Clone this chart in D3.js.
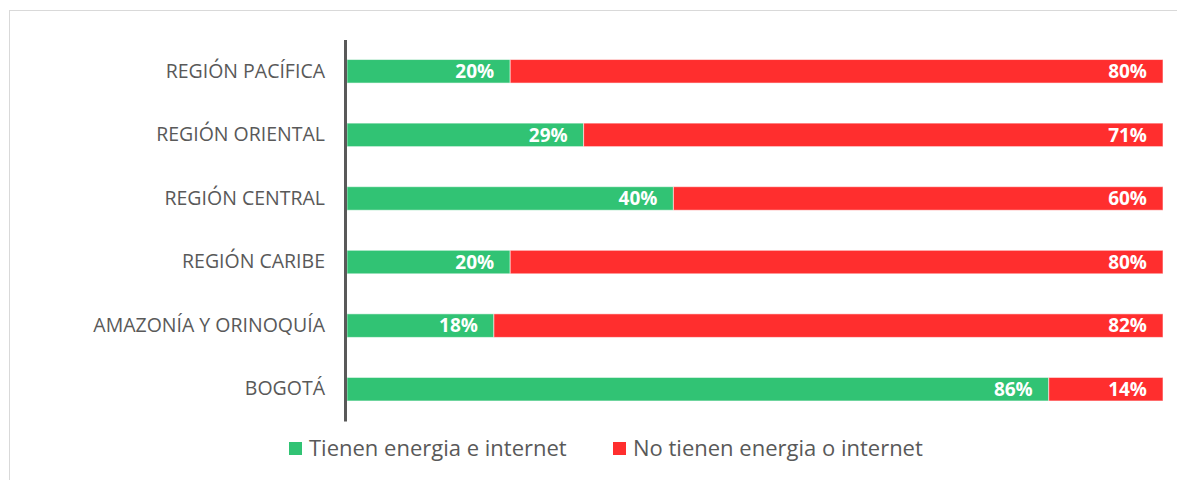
<!DOCTYPE html>
<html lang="es">
<head>
<meta charset="utf-8">
<script src="https://cdn.jsdelivr.net/npm/d3@7"></script>
<style>
  body { margin: 0; background: #fff; }
  svg { display: block; }
</style>
</head>
<body>
<script>
  // datos
  var regiones = ["REGIÓN PACÍFICA", "REGIÓN ORIENTAL", "REGIÓN CENTRAL", "REGIÓN CARIBE", "AMAZONÍA Y ORINOQUÍA", "BOGOTÁ"];
  var conAcceso = [20, 29, 40, 20, 18, 86];
  var sinAcceso = [80, 71, 60, 80, 82, 14];
  var series = ["Tienen energia e internet", "No tienen energia o internet"];
  var colores = ["#31c374", "#ff2e2e"];

  var W = 1177, H = 480;
  var svg = d3.select("body").append("svg")
    .attr("width", W)
    .attr("height", H)
    .style("font-family", "'Open Sans', sans-serif");

  // marco
  svg.append("rect")
    .attr("x", 9.5).attr("y", 10.5)
    .attr("width", W).attr("height", H)
    .attr("fill", "none")
    .attr("stroke", "#d9d9d9");

  var x = d3.scaleLinear().domain([0, 100]).range([347, 1163]);
  var y = d3.scaleBand().domain(regiones).range([39.5, 421]).paddingInner(0.63).paddingOuter(0.315);

  var rows = regiones.map(function(r, i) {
    return { region: r, vals: [conAcceso[i], sinAcceso[i]] };
  });

  var g = svg.append("g");
  rows.forEach(function(d) {
    var acc = 0;
    d.vals.forEach(function(v, k) {
      var x0 = x(acc), x1 = x(acc + v);
      g.append("rect")
        .attr("x", x0)
        .attr("y", y(d.region))
        .attr("width", x1 - x0)
        .attr("height", y.bandwidth())
        .attr("fill", colores[k])
        .attr("stroke", "#fff")
        .attr("stroke-opacity", 0.55)
        .attr("stroke-width", 1);
      g.append("text")
        .attr("x", x1 - 16)
        .attr("y", y(d.region) + y.bandwidth() / 2)
        .attr("dy", "0.36em")
        .attr("text-anchor", "end")
        .attr("fill", "#fff")
        .attr("font-weight", "bold")
        .attr("font-size", 19)
        .text(v + "%");
      acc += v;
    });
  });

  // eje vertical
  var axis = svg.append("g")
    .attr("transform", "translate(345,0)")
    .call(d3.axisLeft(y).tickSize(0).tickPadding(20));
  axis.select(".domain").attr("stroke", "#595959").attr("stroke-width", 3);
  axis.selectAll("text")
    .attr("fill", "#595959")
    .attr("font-size", 19.5)
    .style("font-family", "'Open Sans', sans-serif");

  // leyenda
  var leyX = [289, 613];
  var leg = svg.append("g");
  series.forEach(function(s, i) {
    leg.append("rect")
      .attr("x", leyX[i]).attr("y", 442)
      .attr("width", 13).attr("height", 13)
      .attr("fill", colores[i]);
    leg.append("text")
      .attr("x", leyX[i] + 20)
      .attr("y", 448.5)
      .attr("dy", "0.36em")
      .attr("fill", "#595959")
      .attr("font-size", 22)
      .text(s);
  });
</script>
</body>
</html>
